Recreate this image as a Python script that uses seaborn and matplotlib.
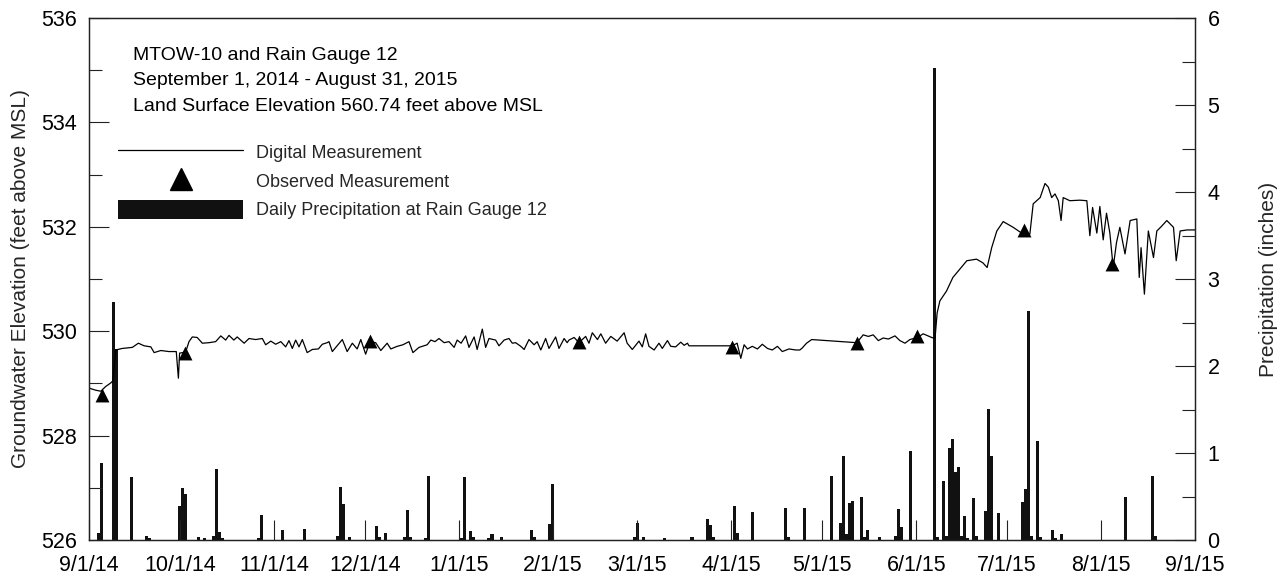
import numpy as np
import pandas as pd
import matplotlib
matplotlib.use("Agg")
import matplotlib.pyplot as plt
import matplotlib.dates as mdates
from matplotlib.lines import Line2D
from matplotlib.patches import Patch
from matplotlib.ticker import MultipleLocator, FuncFormatter
import seaborn as sns

START = pd.Timestamp("2014-09-01")
END = pd.Timestamp("2015-09-01")

# Digital measurement (days since 9/1/14, feet above MSL)
gw_day = [0.0, 2.2, 3.9, 5.5, 7.2, 7.9, 8.8, 11.0, 14.3, 16.3, 18.2, 20.4, 21.5, 23.7, 26.4, 28.8,
          29.5, 29.9, 31.9, 33.0, 34.1, 35.7, 37.4, 39.6, 41.8, 43.5, 45.1, 46.2, 47.8, 48.9, 51.2,
          52.8, 55.0, 57.2, 58.3, 60.0, 61.6, 63.3, 64.9, 66.0, 67.1, 68.2, 69.3, 70.4, 72.0, 73.7,
          75.7, 77.0, 78.6, 79.2, 80.3, 81.9, 83.6, 85.2, 86.9, 88.5, 89.7, 91.3, 92.7, 94.6, 96.3,
          98.4, 99.6, 101.7, 103.6, 105.6, 106.9, 108.9, 111.6, 112.8, 114.2, 115.5, 117.2, 118.8,
          120.5, 121.5, 122.8, 124.3, 125.4, 127.1, 128.1, 129.8, 130.9, 132.0, 134.2, 135.3, 137.0,
          138.6, 139.7, 140.8, 142.5, 143.6, 145.2, 146.9, 147.9, 149.1, 150.7, 151.8, 154.0, 155.1,
          156.8, 157.8, 158.4, 160.1, 161.7, 163.9, 165.0, 166.1, 167.8, 168.9, 170.5, 172.2, 174.3,
          176.6, 177.6, 179.3, 181.5, 182.6, 183.7, 184.8, 186.5, 188.1, 189.2, 190.9, 192.0, 193.6,
          195.3, 196.4, 197.5, 198.0, 212.3, 213.9, 215.1, 216.2, 217.3, 218.9, 220.6, 222.2, 223.9,
          225.5, 227.2, 228.8, 231.0, 233.2, 234.6, 235.4, 236.8, 238.5, 253.4, 255.5, 257.2, 258.8,
          260.5, 262.1, 263.8, 266.0, 267.6, 269.3, 270.9, 273.4, 275.3, 278.1, 279.2, 279.9, 280.8,
          283.0, 285.1, 287.4, 289.7, 292.9, 295.0, 296.4, 297.9, 299.6, 301.7, 305.0, 308.3, 310.5,
          311.6, 313.9, 315.5, 316.6, 317.7, 318.8, 319.9, 320.8, 321.5, 323.7, 327.0, 329.3, 330.3,
          331.2, 332.6, 333.6, 334.7, 335.8, 336.9, 338.0, 339.1, 340.2, 341.9, 343.6, 345.8, 346.6,
          347.2, 348.3, 349.6, 351.3, 352.4, 353.8, 355.7, 357.9, 358.8, 360.1, 362.4, 365.0]
gw_elev = [528.91, 528.87, 528.85, 528.94, 529.01, 529.05, 529.64, 529.67, 529.69, 529.77, 529.72,
           529.70, 529.59, 529.63, 529.61, 529.61, 529.10, 529.58, 529.60, 529.80, 529.89, 529.88,
           529.77, 529.78, 529.80, 529.91, 529.83, 529.92, 529.83, 529.89, 529.77, 529.86, 529.84,
           529.86, 529.74, 529.81, 529.75, 529.80, 529.70, 529.82, 529.67, 529.83, 529.70, 529.84,
           529.59, 529.65, 529.66, 529.75, 529.78, 529.80, 529.61, 529.72, 529.84, 529.61, 529.77,
           529.66, 529.84, 529.56, 529.80, 529.78, 529.63, 529.77, 529.66, 529.71, 529.74, 529.80,
           529.59, 529.69, 529.74, 529.83, 529.80, 529.86, 529.78, 529.80, 529.69, 529.83, 529.77,
           529.91, 529.69, 529.89, 529.65, 530.04, 529.69, 529.86, 529.83, 529.72, 529.83, 529.86,
           529.77, 529.78, 529.71, 529.65, 529.84, 529.74, 529.80, 529.64, 529.86, 529.67, 529.89,
           529.67, 529.86, 529.78, 529.83, 529.88, 529.78, 529.90, 529.77, 529.97, 529.84, 529.95,
           529.77, 529.90, 529.81, 529.97, 529.77, 529.65, 529.81, 529.70, 529.95, 529.71, 529.64,
           529.77, 529.67, 529.82, 529.71, 529.70, 529.79, 529.73, 529.77, 529.72, 529.72, 529.77,
           529.48, 529.74, 529.66, 529.71, 529.66, 529.75, 529.67, 529.64, 529.71, 529.61, 529.66,
           529.64, 529.64, 529.68, 529.77, 529.84, 529.78, 529.93, 529.90, 529.93, 529.82, 529.87,
           529.85, 529.91, 529.82, 529.77, 529.84, 529.88, 529.95, 529.88, 529.86, 530.35, 530.58,
           530.77, 531.03, 531.19, 531.35, 531.38, 531.31, 531.22, 531.60, 531.92, 532.10, 531.99,
           531.86, 531.86, 532.44, 532.56, 532.83, 532.76, 532.56, 532.63, 532.50, 532.12, 532.56,
           532.50, 532.51, 532.50, 531.83, 532.37, 531.88, 532.39, 531.75, 532.26, 531.88, 531.22,
           531.70, 531.99, 531.48, 532.12, 532.15, 531.03, 531.60, 530.71, 531.92, 531.41, 531.92,
           532.00, 532.12, 531.99, 531.35, 531.92, 531.94, 531.94]

# Observed measurements
obs_day = [4.4, 31.8, 92.7, 161.7, 212.3, 253.6, 273.4, 308.6, 337.7]
obs_elev = [528.78, 529.59, 529.82, 529.79, 529.70, 529.77, 529.90, 531.93, 531.29]

# Daily precipitation at Rain Gauge 12 (days since 9/1/14, inches)
rain_day = [3, 4, 8, 9, 14, 19, 20, 30, 31, 32, 36, 38, 41, 42, 43, 44, 56, 57, 64, 71, 82, 83, 84,
            86, 95, 96, 98, 104, 105, 106, 111, 112, 123, 124, 126, 127, 132, 133, 136, 146, 147,
            152, 153, 180, 181, 183, 190, 199, 204, 205, 206, 213, 214, 219, 230, 231, 236, 245,
            248, 249, 250, 251, 252, 255, 256, 257, 261, 266, 267, 268, 271, 279, 280, 282, 283,
            284, 285, 286, 287, 288, 289, 290, 292, 293, 296, 297, 298, 300, 308, 309, 310, 311,
            313, 314, 318, 319, 321, 342, 351, 352]
rain_in = [0.08, 0.89, 2.73, 2.19, 0.72, 0.05, 0.02, 0.39, 0.60, 0.53, 0.03, 0.02, 0.05, 0.82, 0.09,
           0.02, 0.02, 0.29, 0.115, 0.127, 0.05, 0.61, 0.41, 0.04, 0.165, 0.03, 0.08, 0.03, 0.34,
           0.03, 0.02, 0.73, 0.02, 0.72, 0.10, 0.04, 0.02, 0.07, 0.03, 0.11, 0.04, 0.18, 0.64, 0.03,
           0.20, 0.04, 0.02, 0.04, 0.24, 0.17, 0.04, 0.39, 0.08, 0.32, 0.37, 0.04, 0.37, 0.73, 0.20,
           0.97, 0.065, 0.42, 0.45, 0.49, 0.04, 0.11, 0.03, 0.05, 0.36, 0.15, 1.02, 5.43, 0.04, 0.68,
           0.05, 1.06, 1.16, 0.78, 0.84, 0.05, 0.28, 0.02, 0.48, 0.05, 0.33, 1.51, 0.96, 0.31, 0.44,
           0.59, 2.63, 0.05, 1.14, 0.04, 0.11, 0.02, 0.07, 0.50, 0.73, 0.05]

assert len(gw_day) == len(gw_elev)
assert len(rain_day) == len(rain_in)

title_lines = ["MTOW-10 and Rain Gauge 12",
               "September 1, 2014 - August 31, 2015",
               "Land Surface Elevation 560.74 feet above MSL"]
legend_labels = ["Digital Measurement", "Observed Measurement",
                 "Daily Precipitation at Rain Gauge 12"]

def to_dates(days):
    return START + pd.to_timedelta(np.asarray(days, dtype=float), unit="D")

gw = pd.DataFrame({"date": to_dates(gw_day), "elev": gw_elev})
obs = pd.DataFrame({"date": to_dates(obs_day), "elev": obs_elev})
rain = pd.DataFrame({"date": to_dates(rain_day), "inches": rain_in})

sns.set_theme(style="ticks")
plt.rcParams["font.family"] = ["Liberation Sans", "DejaVu Sans"]
plt.rcParams["axes.edgecolor"] = "#222222"
plt.rcParams["axes.linewidth"] = 0.9

fig = plt.figure(figsize=(12.84, 5.79), dpi=100)
ax = fig.add_axes([89 / 1284, 1 - 540 / 579, 1106 / 1284, 522 / 579])
ax2 = ax.twinx()

# precipitation bars (right axis)
ax2.bar(rain["date"], rain["inches"], width=1.0, color="#111111", linewidth=0, align="center")

# groundwater line + observed triangles (left axis)
sns.lineplot(data=gw, x="date", y="elev", ax=ax, color="black", linewidth=0.9)
sns.scatterplot(data=obs, x="date", y="elev", ax=ax, marker="^", s=100, color="black",
                edgecolor="black", linewidth=0, zorder=5)

ax.set_zorder(ax2.get_zorder() + 1)
ax.patch.set_visible(False)

ax.set_xlim(START, END)
ax.set_ylim(526, 536)
ax2.set_ylim(0, 6)

ax.xaxis.set_major_locator(mdates.MonthLocator())
def fmt_date(v, pos):
    d = mdates.num2date(v)
    return f"{d.month}/{d.day}/{d.year % 100}"
ax.xaxis.set_major_formatter(FuncFormatter(fmt_date))

ax.yaxis.set_major_locator(MultipleLocator(2))
ax.yaxis.set_minor_locator(MultipleLocator(1))
ax2.yaxis.set_major_locator(MultipleLocator(1))
ax2.yaxis.set_minor_locator(MultipleLocator(0.5))

tick_kw = dict(direction="in", color="#222222", width=0.8, labelsize=15.5, labelcolor="black")
ax.tick_params(axis="x", which="major", length=14.4, pad=10.5, **tick_kw)
ax.tick_params(axis="y", which="major", length=14.4, pad=8.5, **tick_kw)
ax.tick_params(axis="y", which="minor", length=9.4, direction="in", color="#222222", width=0.8)
ax2.tick_params(axis="y", which="major", length=14.4, pad=9, **tick_kw)
ax2.tick_params(axis="y", which="minor", length=9.4, direction="in", color="#222222", width=0.8)

ax.set_xlabel("")
ax.set_ylabel("Groundwater Elevation (feet above MSL)", fontsize=15, labelpad=8)
ax2.set_ylabel("Precipitation (inches)", fontsize=15, labelpad=28)

for i, line in enumerate(title_lines):
    ax.text(0.0398, 0.929 - i * 0.0493, line, transform=ax.transAxes, fontsize=14,
            va="center", ha="left", color="black")

handles = [Line2D([], [], color="black", linewidth=0.9),
           Line2D([], [], linestyle="none", marker="^", markersize=16, color="black"),
           Patch(facecolor="#111111", edgecolor="none")]
ax.legend(handles, legend_labels, loc="upper left", bbox_to_anchor=(0.0265, 0.762),
          frameon=False, fontsize=13, handlelength=6.9, handleheight=1.22,
          handletextpad=0.72, labelspacing=0.52, borderpad=0, borderaxespad=0)

fig.savefig("out.png", dpi=100)
